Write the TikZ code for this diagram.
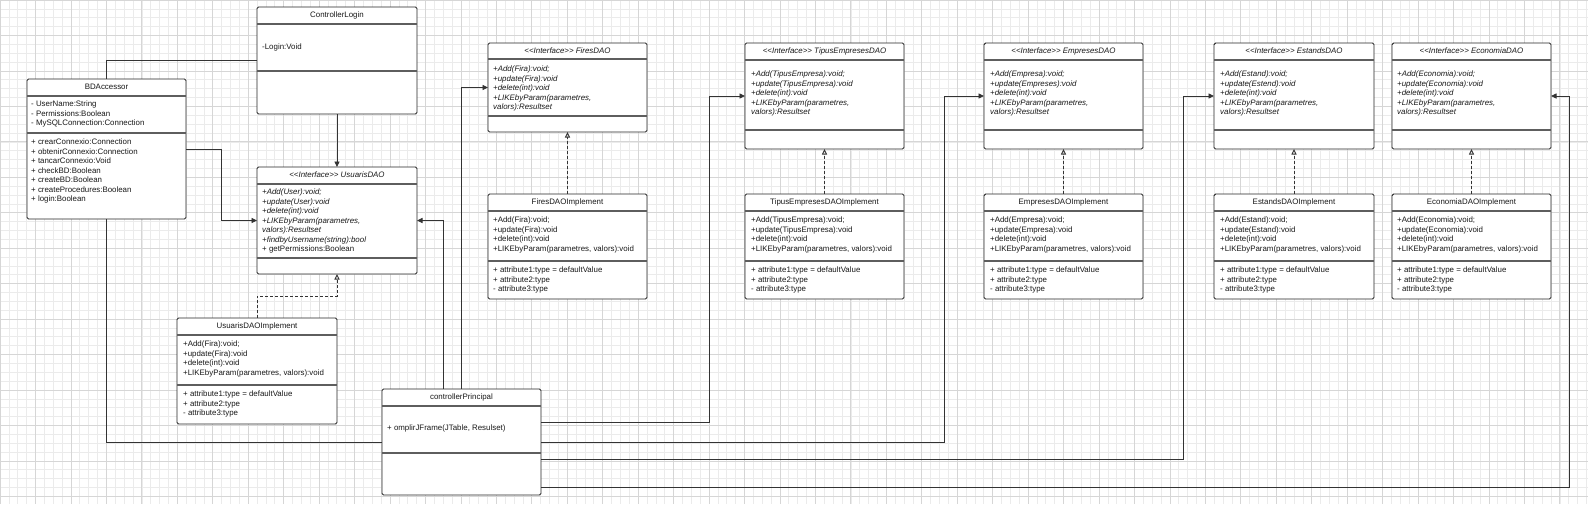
\documentclass[tikz,border=0pt]{standalone}
\usepackage{fontspec}
\setmainfont{Liberation Sans}
\usetikzlibrary{arrows.meta}
\definecolor{gridminor}{HTML}{EBEBEB}
\definecolor{gridmajor}{HTML}{D6D6D6}
\definecolor{linec}{HTML}{333333}
\definecolor{divc}{HTML}{5E5E5E}
\tikzset{
  cls/.style={draw=black!85, line width=0.9pt, fill=white, rounded corners=1.6pt, inner sep=0pt, outer sep=0pt, anchor=north west},
  div/.style={draw=divc, line width=1.4pt},
  ttl/.style={font=\fontsize{7.9}{9.4}\selectfont, inner sep=0pt, text height=5.6pt, text depth=0pt, text=black!90},
  txt/.style={font=\fontsize{7.9}{9.4}\selectfont, inner sep=0pt, anchor=west, text height=5.6pt, text depth=0pt, text=black!90},
  conn/.style={draw=linec, line width=0.9pt},
  assoc/.style={conn, -{Triangle[length=5.5pt,width=5pt]}},
  real/.style={conn, dash pattern=on 3pt off 2pt, -{Triangle[open,length=5.5pt,width=5pt]}},
  gmin/.style={draw=gridminor, line width=0.6pt},
  gmaj/.style={draw=gridmajor, line width=0.7pt},
}
% name, x1, y1, x2, y2, div1, div2, title
\newcommand\umlclass[8]{%
  \node[cls, minimum width={(#4-#2)*1pt}, minimum height={(#5-#3)*1pt}] (#1) at (#2,#3) {};
  \draw[div] (#1.west |- 0,#6) -- (#1.east |- 0,#6);
  \draw[div] (#1.west |- 0,#7) -- (#1.east |- 0,#7);
  \node[ttl] (#1-t) at ({(#2+#4)/2},{(#3+#6)/2-0.8}) {#8};
}
% prefix, x, first y, font, list
\newcommand\umllines[5]{%
  \foreach \itm [count=\k] in {#5} {\node[txt] (#1-\k) at (#2,{#3+(\k-1)*9.5}) {#4\itm};}%
}
\newcommand\intf{{<}{<}Interface{>}{>}}
\begin{document}
\begin{tikzpicture}[x=1pt,y=-1pt]
\useasboundingbox (0,0) rectangle (1588,504);
\fill[white] (0,0) rectangle (1588,504);
% grid
\foreach \i in {0,...,179} {\draw[gmin] ({\i*8.8625},0) -- ({\i*8.8625},504);}
\foreach \j in {0,...,57} {\draw[gmin] (0,{\j*8.8625}) -- (1588,{\j*8.8625});}
\foreach \i in {0,...,44} {\draw[gmaj] ({\i*35.45},0) -- ({\i*35.45},504);}
\foreach \j in {0,...,14} {\draw[gmaj] (0,{\j*35.45}) -- (1588,{\j*35.45});}

% classes
\umlclass{cl}{257}{7}{417}{114}{24}{71}{ControllerLogin}
\node[txt] (cl-1) at (262,47) {-Login:Void};

\umlclass{bd}{27}{79}{186}{219}{96}{133}{BDAccessor}
\umllines{bda}{31}{104}{}{- UserName:String, - Permissions:Boolean, - MySQLConnection:Connection}
\umllines{bdm}{31}{142}{}{+ crearConnexio:Connection, + obtenirConnexio:Connection, + tancarConnexio:Void, + checkBD:Boolean, + createBD:Boolean, + createProcedures:Boolean, + login:Boolean}

\umlclass{ud}{257}{167}{417}{274}{184}{258}{\itshape\intf{} UsuarisDAO}
\umllines{udm}{262}{192}{\itshape}{+Add(User):void;, +update(User):void, +delete(int):void, {+LIKEbyParam(parametres,}, valors):Resultset, +findbyUsername(string):bool, {\upshape + getPermissions:Boolean}}

\umlclass{ui}{177}{318}{337}{424}{335}{385}{UsuarisDAOImplement}
\umllines{uim}{183}{344}{}{+Add(Fira):void;, +update(Fira):void, +delete(int):void, {+LIKEbyParam(parametres, valors):void}}
\umllines{uia}{183}{394}{}{+ attribute1:type = defaultValue, + attribute2:type, - attribute3:type}

\umlclass{cp}{382}{389}{541}{495}{406}{453}{controllerPrincipal}
\node[txt] (cp-1) at (387,428) {+ omplirJFrame(JTable, Resulset)};

\umlclass{fd}{488}{43}{647}{132}{59}{116}{\itshape\intf{} FiresDAO}
\umllines{fdm}{493}{69}{\itshape}{+Add(Fira):void;, +update(Fira):void, +delete(int):void, {+LIKEbyParam(parametres,}, valors):Resultset}
\umlclass{fi}{488}{194}{647}{299}{211}{261}{FiresDAOImplement}
\umllines{fim}{493}{220}{}{+Add(Fira):void;, +update(Fira):void, +delete(int):void, {+LIKEbyParam(parametres, valors):void}}
\umllines{fia}{493}{270}{}{+ attribute1:type = defaultValue, + attribute2:type, - attribute3:type}

\umlclass{td}{745}{43}{904}{149}{60}{130}{\itshape\intf{} TipusEmpresesDAO}
\umllines{tdm}{751}{74}{\itshape}{+Add(TipusEmpresa):void;, +update(TipusEmpresa):void, +delete(int):void, {+LIKEbyParam(parametres,}, valors):Resultset}
\umlclass{ti}{745}{194}{904}{299}{211}{261}{TipusEmpresesDAOImplement}
\umllines{tim}{751}{220}{}{+Add(TipusEmpresa):void;, +update(TipusEmpresa):void, +delete(int):void, {+LIKEbyParam(parametres, valors):void}}
\umllines{tia}{751}{270}{}{+ attribute1:type = defaultValue, + attribute2:type, - attribute3:type}

\umlclass{ed}{984}{43}{1143}{149}{60}{130}{\itshape\intf{} EmpresesDAO}
\umllines{edm}{990}{74}{\itshape}{+Add(Empresa):void;, +update(Empreses):void, +delete(int):void, {+LIKEbyParam(parametres,}, valors):Resultset}
\umlclass{ei}{984}{194}{1143}{299}{211}{261}{EmpresesDAOImplement}
\umllines{eim}{990}{220}{}{+Add(Empresa):void;, +update(Empresa):void, +delete(int):void, {+LIKEbyParam(parametres, valors):void}}
\umllines{eia}{990}{270}{}{+ attribute1:type = defaultValue, + attribute2:type, - attribute3:type}

\umlclass{sd}{1214}{43}{1374}{149}{60}{130}{\itshape\intf{} EstandsDAO}
\umllines{sdm}{1220}{74}{\itshape}{+Add(Estand):void;, +update(Estend):void, +delete(int):void, {+LIKEbyParam(parametres,}, valors):Resultset}
\umlclass{si}{1214}{194}{1374}{299}{211}{261}{EstandsDAOImplement}
\umllines{sim}{1220}{220}{}{+Add(Estand):void;, +update(Estand):void, +delete(int):void, {+LIKEbyParam(parametres, valors):void}}
\umllines{sia}{1220}{270}{}{+ attribute1:type = defaultValue, + attribute2:type, - attribute3:type}

\umlclass{nd}{1392}{43}{1551}{149}{60}{130}{\itshape\intf{} EconomiaDAO}
\umllines{ndm}{1397}{74}{\itshape}{+Add(Economia):void;, +update(Economia):void, +delete(int):void, {+LIKEbyParam(parametres,}, valors):Resultset}
\umlclass{ni}{1392}{194}{1551}{299}{211}{261}{EconomiaDAOImplement}
\umllines{nim}{1397}{220}{}{+Add(Economia):void;, +update(Economia):void, +delete(int):void, {+LIKEbyParam(parametres, valors):void}}
\umllines{nia}{1397}{270}{}{+ attribute1:type = defaultValue, + attribute2:type, - attribute3:type}

% connectors
\draw[conn] (cl.west) -| (bd.north);
\draw[assoc] (cl.south) -- (ud.north);
\draw[assoc] (bd.east) -- ++(35,0) |- (ud.west);
\draw[assoc] ([xshift=-18pt]cp.north) |- (ud.east);
\draw[assoc] (cp.north) |- (fd.west);
\draw[assoc] ([yshift=20pt]cp.east) -| ([xshift=-36pt]td.west) -- (td.west);
\draw[assoc] (cp.east) -| ([xshift=-40pt]ed.west) -- (ed.west);
\draw[assoc] ([yshift=-17pt]cp.east) -| ([xshift=-31pt]sd.west) -- (sd.west);
\draw[assoc] ([yshift=-45pt]cp.east) -| ([xshift=18pt]nd.east) -- (nd.east);
\draw[conn] (bd.south) |- (cp.west);
% realizations
\draw[real] (ui.north) -- ++(0,-22) -| (ud.south);
\draw[real] (fi.north) -- (fd.south);
\draw[real] (ti.north) -- (td.south);
\draw[real] (ei.north) -- (ed.south);
\draw[real] (si.north) -- (sd.south);
\draw[real] (ni.north) -- (nd.south);
\end{tikzpicture}
\end{document}
